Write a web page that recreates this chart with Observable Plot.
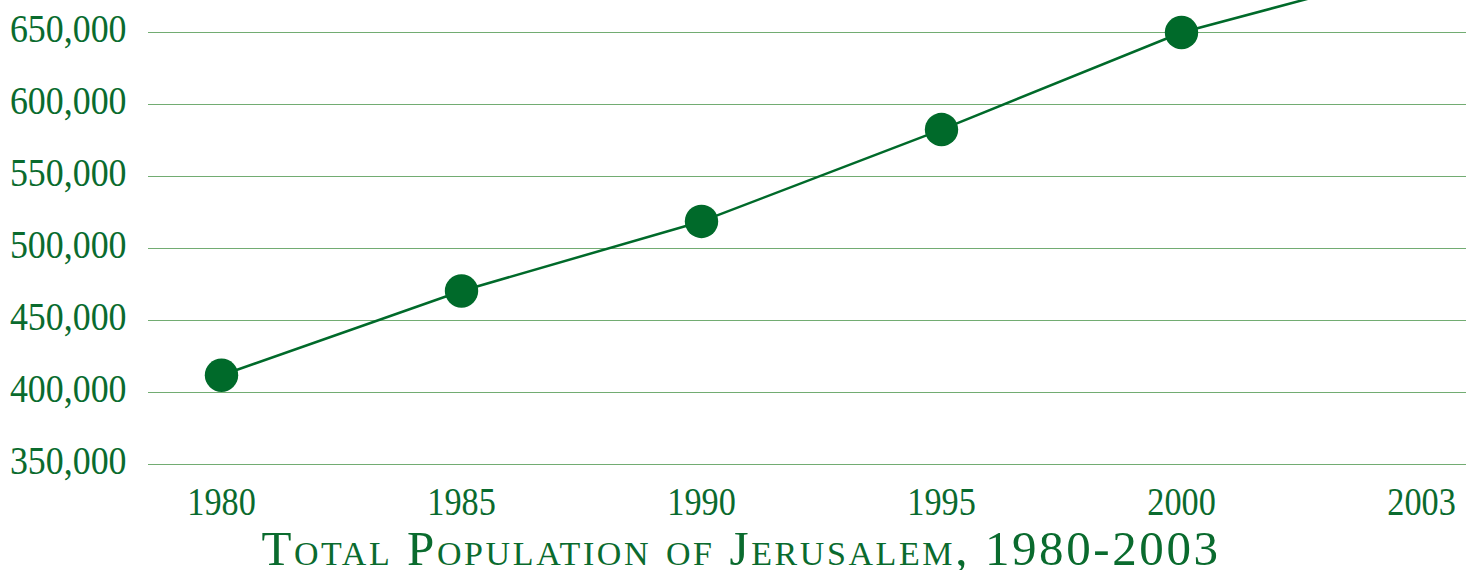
<!DOCTYPE html>
<html>
<head>
<meta charset="utf-8">
<script src="https://cdn.jsdelivr.net/npm/d3@7"></script>
<script src="https://cdn.jsdelivr.net/npm/@observablehq/plot@0.6"></script>
<style>
  html, body { margin: 0; padding: 0; background: #ffffff; }
  body { width: 1476px; height: 570px; overflow: hidden; }
  #chart svg { overflow: visible; display: block; }
  #title {
    font-family: "Liberation Serif", "Times New Roman", serif;
    font-variant: small-caps;
    font-size: 49px;
    letter-spacing: 2.6px;
    line-height: 36px;
    color: #0a6b2e;
    text-align: center;
    width: 1476px;
    padding-left: 6px;
    box-sizing: border-box;
    margin-top: -1px;
    white-space: nowrap;
  }
</style>
</head>
<body>
<div id="chart"></div>
<div id="title">Total Population of Jerusalem, 1980-2003</div>
<script>
const years = ["1980", "1985", "1990", "1995", "2000", "2003"];
const population = [412000, 470500, 518800, 582600, 650000, 694500];
const yTicks = [350000, 400000, 450000, 500000, 550000, 600000, 650000];

const data = years.map((year, i) => ({ year, pop: population[i] }));

const textColor = "#0a6b2e";
const lineColor = "#006a2a";
const gridColor = "#72ac72";

const W = 1476, H = 532;
const chart = Plot.plot({
  width: W,
  height: H,
  marginTop: 0,
  marginBottom: 68,
  marginLeft: 148,
  marginRight: 10,
  style: {
    fontFamily: "'Liberation Serif', 'Times New Roman', serif",
    fontSize: "41px",
    color: textColor,
    background: "transparent",
    overflow: "visible"
  },
  x: { type: "point", domain: years, padding: 0.2455, align: 0.62 },
  y: { domain: [350000, 650000 + 32 / 72 * 50000] },
  marks: [
    Plot.gridY(yTicks, { stroke: gridColor, strokeOpacity: 1, strokeWidth: 1 }),
    Plot.axisY(yTicks, {
      tickSize: 0,
      tickPadding: 22,
      tickFormat: d => d3.format(",")(d),
      fill: textColor,
      dy: -4,
      label: null
    }),
    Plot.axisX({
      tickSize: 0,
      tickPadding: 21,
      fill: textColor,
      label: null
    }),
    Plot.line(data, { x: "year", y: "pop", stroke: lineColor, strokeWidth: 2.5, clip: true }),
    Plot.dot(data, { x: "year", y: "pop", r: 16.7, fill: lineColor, stroke: "none", clip: true })
  ]
});
document.getElementById("chart").appendChild(chart);

// condense tick label glyphs to mimic the narrow serif face
d3.select(chart).selectAll("g[aria-label='y-axis tick label'] text").each(function () {
  const len = this.getComputedTextLength();
  this.setAttribute("textLength", (len * 0.875).toFixed(1));
  this.setAttribute("lengthAdjust", "spacingAndGlyphs");
});
d3.select(chart).selectAll("g[aria-label='x-axis tick label'] text").each(function () {
  const len = this.getComputedTextLength();
  this.setAttribute("textLength", (len * 0.835).toFixed(1));
  this.setAttribute("lengthAdjust", "spacingAndGlyphs");
});
</script>
</body>
</html>
